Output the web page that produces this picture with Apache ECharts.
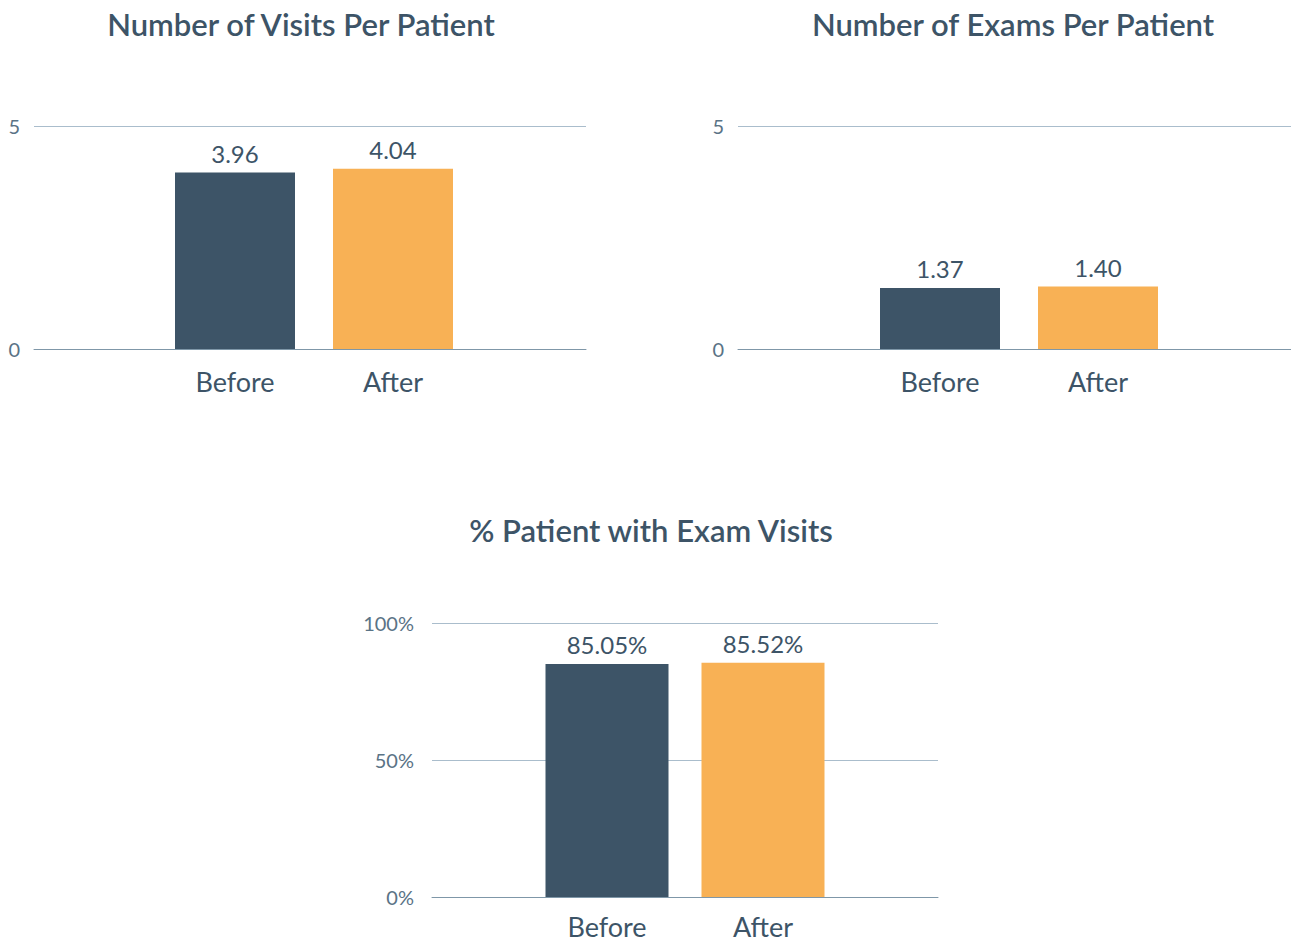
<!DOCTYPE html>
<html>
<head>
<meta charset="utf-8">
<title>Before / After per patient</title>
<script src="https://cdn.jsdelivr.net/npm/echarts@6/dist/echarts.min.js"></script>
<style>
  html, body { margin: 0; padding: 0; background: #ffffff; }
  #chart { width: 1291px; height: 942px; }
</style>
</head>
<body>
<div id="chart"></div>
<script>
const categories = ["Before", "After"];
const visitsPerPatient = [3.96, 4.04];
const examsPerPatient = [1.37, 1.40];
const pctWithExamVisits = [85.05, 85.52];
const countTicks = [0, 5];
const pctTicks = [0, 50, 100];
const chartTitles = ["Number of Visits Per Patient", "Number of Exams Per Patient", "% Patient with Exam Visits"];
const barColors = ["#3d5467", "#f8b155"];

const FONT = "Lato, 'Noto Sans', sans-serif";
const TEXT = "#3d5467";
const AXIS_TEXT = "#5a7386";
const SPLIT = "#aabdcc";
const BASE = "#7f97a8";

// one panel = a wide grid for the gridlines + a narrow grid for the bars
const panels = [
  { title: chartTitles[0], cx: 301, ty: 24, full: [34, 586], bars: [156, 472], top: 126, bottom: 349,
    data: visitsPerPatient, ticks: countTicks, pct: false, barWidth: 120, catMargin: 19 },
  { title: chartTitles[1], cx: 1013, ty: 24, full: [738, 1291], bars: [861, 1177], top: 126, bottom: 349,
    data: examsPerPatient, ticks: countTicks, pct: false, barWidth: 120, catMargin: 19 },
  { title: chartTitles[2], cx: 651, ty: 530, full: [432, 938], bars: [529, 841], top: 623, bottom: 897,
    data: pctWithExamVisits, ticks: pctTicks, pct: true, barWidth: 123, catMargin: 16 }
];

const W = 1291, H = 942;
const grid = [], xAxis = [], yAxis = [], series = [], graphic = [];

panels.forEach((p, i) => {
  const tickMin = p.ticks[0];
  const tickMax = p.ticks[p.ticks.length - 1];
  const tickStep = p.ticks[1] - p.ticks[0];
  const bg = i * 2, fg = i * 2 + 1;

  grid.push({ left: p.full[0], right: W - p.full[1], top: p.top, bottom: H - p.bottom });
  grid.push({ left: p.bars[0], right: W - p.bars[1], top: p.top, bottom: H - p.bottom });

  xAxis.push({
    gridIndex: bg, type: "category", data: [""],
    axisLine: { show: true, lineStyle: { color: BASE, width: 1 } },
    axisTick: { show: false }, axisLabel: { show: false }, splitLine: { show: false }
  });
  xAxis.push({
    gridIndex: fg, type: "category", data: categories,
    axisLine: { show: false }, axisTick: { show: false },
    axisLabel: { color: TEXT, fontFamily: FONT, fontSize: 27, margin: p.catMargin }
  });

  yAxis.push({
    gridIndex: bg, type: "value", min: tickMin, max: tickMax, interval: tickStep,
    axisLine: { show: false }, axisTick: { show: false },
    axisLabel: {
      color: AXIS_TEXT, fontFamily: FONT, fontSize: 20, margin: p.pct ? 18 : 14,
      formatter: v => p.pct ? v + "%" : String(v)
    },
    splitLine: { lineStyle: { color: SPLIT, width: 1 } }
  });
  yAxis.push({ gridIndex: fg, type: "value", min: tickMin, max: tickMax, show: false });

  series.push({
    type: "bar", xAxisIndex: fg, yAxisIndex: fg,
    barWidth: p.barWidth,
    data: p.data.map((v, k) => ({ value: v, itemStyle: { color: barColors[k] } })),
    label: {
      show: true, position: "top", distance: 7,
      color: TEXT, fontFamily: FONT, fontSize: 24,
      formatter: d => d.value.toFixed(2) + (p.pct ? "%" : "")
    },
    emphasis: { disabled: true },
    silent: true
  });

  graphic.push({
    type: "text", x: p.cx, y: p.ty,
    style: {
      text: p.title, fill: TEXT, font: "600 31px " + FONT,
      textAlign: "center", textVerticalAlign: "middle"
    }
  });
});

const chart = echarts.init(document.getElementById("chart"), null, { renderer: "svg" });
chart.setOption({
  animation: false,
  grid, xAxis, yAxis, series, graphic
});
</script>
</body>
</html>
